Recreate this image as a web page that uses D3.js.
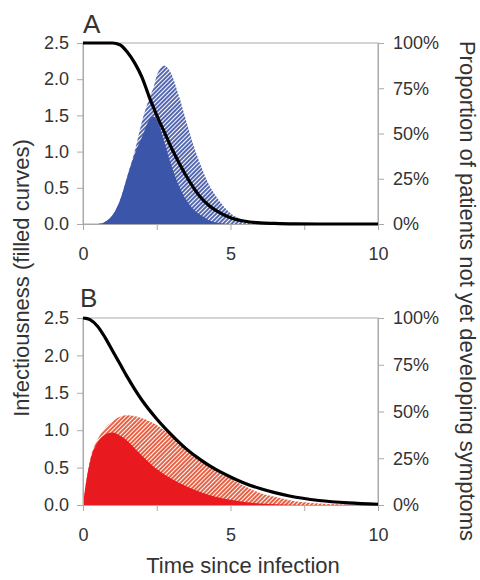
<!DOCTYPE html>
<html>
<head>
    <script src="https://d3js.org/d3.v7.min.js"></script>
    <style>
        body { margin: 0; background: #fff; }
        svg { display: block; }
        text { font-family: "Liberation Sans", Arial, sans-serif; fill: #333; }
        .axis path, .axis line { stroke: #aaa; }
        .axis text { font-size: 18px; fill: #333; }
    </style>
</head>
<body>
    <svg width="480" height="580"></svg>
    <script>
        // Datos
        const timeA = [0, 0.5, 0.75, 1, 1.25, 1.5, 1.75, 2, 2.25, 2.4, 2.5, 2.75, 3, 3.25, 3.5, 3.75, 4, 4.25, 4.5, 5, 5.5, 6, 6.5, 7, 8, 10];
        const totalA = [0, 0, 0.03, 0.12, 0.32, 0.66, 1.0, 1.42, 1.74, 1.9, 2.05, 2.19, 2.07, 1.77, 1.42, 1.08, 0.8, 0.56, 0.39, 0.15, 0.05, 0.01, 0, 0, 0, 0];
        const presympA = [0, 0, 0.03, 0.12, 0.32, 0.65, 0.96, 1.2, 1.44, 1.48, 1.44, 1.14, 0.8, 0.53, 0.33, 0.2, 0.12, 0.055, 0.02, 0, 0, 0, 0, 0, 0, 0];
        const notSympA = [1, 1, 1, 1, 0.99, 0.95, 0.89, 0.81, 0.7, 0.64, 0.6, 0.51, 0.42, 0.34, 0.265, 0.2, 0.145, 0.105, 0.075, 0.035, 0.015, 0.006, 0.003, 0.001, 0, 0];

        const timeB = [0, 0.1, 0.25, 0.5, 0.75, 1, 1.25, 1.5, 1.75, 2, 2.5, 3, 3.5, 4, 4.5, 5, 5.5, 6, 6.5, 7, 8, 9, 10];
        const totalB = [0, 0.3, 0.62, 0.88, 1.03, 1.12, 1.18, 1.2, 1.19, 1.16, 1.07, 0.92, 0.76, 0.62, 0.47, 0.35, 0.25, 0.16, 0.11, 0.065, 0.02, 0.005, 0];
        const presympB = [0, 0.29, 0.6, 0.84, 0.94, 0.97, 0.93, 0.86, 0.76, 0.66, 0.48, 0.35, 0.25, 0.17, 0.11, 0.07, 0.04, 0.02, 0.01, 0.005, 0, 0, 0];
        const notSympB = [1, 0.998, 0.99, 0.955, 0.895, 0.825, 0.755, 0.685, 0.62, 0.56, 0.46, 0.375, 0.3, 0.24, 0.19, 0.15, 0.115, 0.088, 0.066, 0.048, 0.024, 0.011, 0.004];

        const xTicks = [0, 2.5, 5, 7.5, 10];
        const yTicks = [0, 0.5, 1, 1.5, 2, 2.5];
        const pTicks = [0, 0.25, 0.5, 0.75, 1];

        const svg = d3.select("svg");

        // Patrones rayados
        const defs = svg.append("defs");
        function hatch(id, color) {
            const p = defs.append("pattern")
                .attr("id", id)
                .attr("patternUnits", "userSpaceOnUse")
                .attr("width", 3).attr("height", 3)
                .attr("patternTransform", "rotate(45)");
            p.append("rect").attr("width", 3).attr("height", 3).attr("fill", "#fff");
            p.append("line").attr("x1", 1).attr("y1", 0).attr("x2", 1).attr("y2", 3)
                .attr("stroke", color).attr("stroke-width", 1.8);
        }
        hatch("hatchBlue", "#4257a8");
        hatch("hatchRed", "#e5502f");

        const x = d3.scaleLinear().domain([0, 10]).range([83, 378]);

        const panels = [
            { label: "A", top: 43, bottom: 224, time: timeA, total: totalA, pre: presympA, prop: notSympA,
              solid: "#3b55a8", hatchId: "hatchBlue", lx: 83, ly: 33 },
            { label: "B", top: 318, bottom: 505, time: timeB, total: totalB, pre: presympB, prop: notSympB,
              solid: "#e8191f", hatchId: "hatchRed", lx: 80, ly: 307 }
        ];

        panels.forEach(p => {
            const y = d3.scaleLinear().domain([0, 2.5]).range([p.bottom, p.top]);
            const yp = d3.scaleLinear().domain([0, 1]).range([p.bottom, p.top]);
            const g = svg.append("g");

            // Marco
            g.append("rect")
                .attr("x", x(0)).attr("y", p.top)
                .attr("width", x(10) - x(0)).attr("height", p.bottom - p.top)
                .attr("fill", "none").attr("stroke", "#aaa");

            const area = (vals) => d3.area()
                .x((d, i) => x(p.time[i]))
                .y0(y(0))
                .y1((d, i) => y(vals[i]))
                .curve(d3.curveMonotoneX)(vals);

            g.append("path").attr("d", area(p.total)).attr("fill", `url(#${p.hatchId})`);
            g.append("path").attr("d", area(p.pre)).attr("fill", p.solid);

            // Ejes
            g.append("g").attr("class", "axis")
                .attr("transform", `translate(0,${p.bottom})`)
                .call(d3.axisBottom(x).tickValues(xTicks).tickSize(6).tickSizeOuter(0).tickPadding(17)
                    .tickFormat(d => Number.isInteger(d) ? d : ""));
            g.append("g").attr("class", "axis")
                .attr("transform", `translate(${x(0)},0)`)
                .call(d3.axisLeft(y).tickValues(yTicks).tickSize(6).tickSizeOuter(0).tickPadding(8)
                    .tickFormat(d3.format(".1f")));
            g.append("g").attr("class", "axis")
                .attr("transform", `translate(${x(10)},0)`)
                .call(d3.axisRight(yp).tickValues(pTicks).tickSize(6).tickSizeOuter(0).tickPadding(9)
                    .tickFormat(d3.format(".0%")));

            // Curva negra
            g.append("path")
                .attr("d", d3.line()
                    .x((d, i) => x(p.time[i]))
                    .y(d => yp(d))
                    .curve(d3.curveMonotoneX)(p.prop))
                .attr("fill", "none").attr("stroke", "#000").attr("stroke-width", 3.2);

            g.append("text")
                .attr("x", p.lx).attr("y", p.ly)
                .style("font-size", "26px")
                .text(p.label);
        });

        // Títulos
        svg.append("text")
            .attr("x", 243).attr("y", 573)
            .attr("text-anchor", "middle")
            .style("font-size", "22px")
            .text("Time since infection");

        svg.append("text")
            .attr("transform", "translate(21,278) rotate(-90)")
            .attr("text-anchor", "middle")
            .attr("dominant-baseline", "central")
            .style("font-size", "22px")
            .text("Infectiousness (filled curves)");

        svg.append("text")
            .attr("transform", "translate(467,291) rotate(90)")
            .attr("text-anchor", "middle")
            .attr("dominant-baseline", "central")
            .style("font-size", "22px")
            .text("Proportion of patients not yet developing symptoms");
    </script>
</body>
</html>
